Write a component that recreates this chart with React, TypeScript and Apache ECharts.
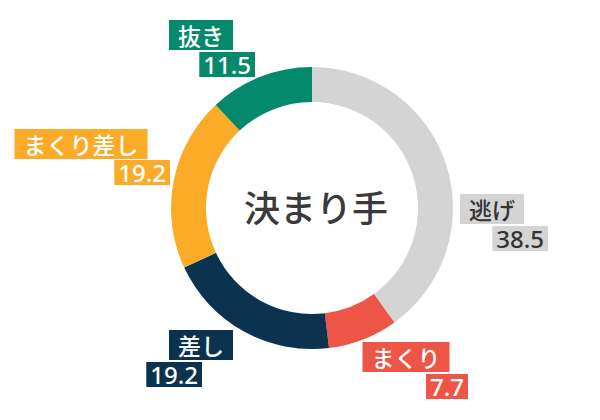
import { useEffect, useRef } from "react";
import * as echarts from "echarts";

// 決まり手 (winning technique) share, %
const NAMES = ["逃げ", "まくり", "差し", "まくり差し", "抜き"];
const VALUES = [38.5, 7.7, 19.2, 19.2, 11.5];
const COLORS = ["#d4d4d4", "#ed5546", "#0b3350", "#fbab28", "#04896a"];
const TEXT_COLORS = ["#333333", "#ffffff", "#ffffff", "#ffffff", "#ffffff"];

// label placement: name box [centerX, top], value box [rightX, top]
const NAME_POS = [
  [492, 194],
  [406, 342],
  [201, 330],
  [81, 129],
  [201, 20],
];
const VALUE_POS = [
  [548, 226],
  [468, 374],
  [202, 362],
  [170, 160],
  [255, 52],
];

const CENTER = [312, 208];
const RADIUS = [106, 141];

export default function App() {
  const ref = useRef<HTMLDivElement>(null);

  useEffect(() => {
    if (!ref.current) return;
    const chart = echarts.init(ref.current, null, { renderer: "svg" });

    const base = {
      type: "pie" as const,
      center: CENTER,
      radius: RADIUS,
      startAngle: 90,
      clockwise: true,
      avoidLabelOverlap: false,
      labelLine: { show: false },
      emphasis: { disabled: true },
    };

    chart.setOption({
      animation: false,
      graphic: [
        {
          type: "text",
          x: 316,
          y: 206,
          style: {
            text: "決まり手",
            fontSize: 36,
            fontWeight: 500,
            fontFamily: "Noto Sans CJK JP",
            fill: "#3a3a3a",
            align: "center",
            verticalAlign: "middle",
          },
        },
      ],
      series: [
        {
          ...base,
          data: NAMES.map((n, i) => ({
            name: n,
            value: VALUES[i],
            itemStyle: { color: COLORS[i], borderWidth: 0 },
            label: { backgroundColor: COLORS[i], color: TEXT_COLORS[i] },
          })),
          label: {
            show: true,
            position: "outside",
            formatter: "{b}",
            fontSize: 23,
            fontWeight: 500,
            fontFamily: "Noto Sans CJK JP",
            lineHeight: 30,
            padding: [0, 9],
          },
          labelLayout: (p: any) => ({
            x: NAME_POS[p.dataIndex][0],
            y: NAME_POS[p.dataIndex][1],
            align: "center",
            verticalAlign: "top",
          }),
        },
        {
          ...base,
          silent: true,
          data: NAMES.map((n, i) => ({
            name: n,
            value: VALUES[i],
            itemStyle: { color: "rgba(0,0,0,0)", borderWidth: 0 },
            label: { backgroundColor: COLORS[i], color: TEXT_COLORS[i] },
          })),
          label: {
            show: true,
            position: "outside",
            formatter: (p: any) => p.value.toFixed(1),
            fontSize: 24,
            fontWeight: 500,
            fontFamily: "Noto Sans",
            lineHeight: 25,
            padding: [0, 4],
          },
          labelLayout: (p: any) => ({
            x: VALUE_POS[p.dataIndex][0],
            y: VALUE_POS[p.dataIndex][1],
            align: "right",
            verticalAlign: "top",
          }),
        },
      ],
    });

    return () => chart.dispose();
  }, []);

  return (
    <div
      ref={ref}
      style={{ position: "absolute", left: 0, top: 0, width: 600, height: 420, background: "#fff" }}
    />
  );
}
